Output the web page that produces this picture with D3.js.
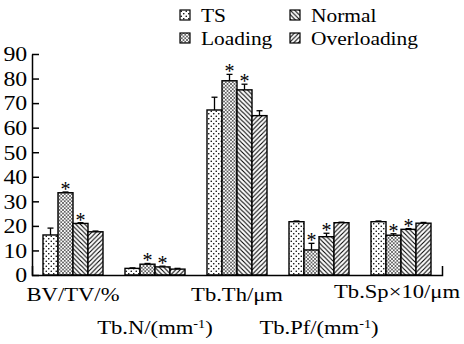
<!DOCTYPE html>
<html>
<head>
<meta charset="utf-8">
<script src="https://cdn.jsdelivr.net/npm/d3@7"></script>
<style>
  body { margin: 0; background: #fff; }
  svg text { font-family: "Liberation Serif", "DejaVu Serif", Tinos, "Times New Roman", serif; fill: #000; }
</style>
</head>
<body>
<div id="chart"></div>
<script>
// chart data
const categories = ["BV/TV/%", "Tb.N/(mm^-1^)", "Tb.Th/μm", "Tb.Pf/(mm^-1^)", "Tb.Sp×10/μm"];
const groups = ["TS", "Loading", "Normal", "Overloading"];
const tsMean = [16.3, 2.7, 67.2, 21.7, 21.7];
const loadingMean = [33.5, 4.4, 79.1, 10.2, 16.2];
const normalMean = [21.0, 3.3, 75.4, 15.6, 18.6];
const overMean = [17.6, 2.4, 64.9, 21.3, 21.1];
const tsErr = [2.8, 0.2, 5.2, 0.3, 0.3];
const loadingErr = [0.3, 0.3, 2.6, 2.7, 0.6];
const normalErr = [0.3, 0.3, 2.3, 1.4, 0.3];
const overErr = [0.3, 0.3, 2.0, 0.2, 0.3];
const significant = [false, true, true, false];
const yTicks = [0, 10, 20, 30, 40, 50, 60, 70, 80, 90];

const means = [tsMean, loadingMean, normalMean, overMean];
const errs = [tsErr, loadingErr, normalErr, overErr];

const width = 464, height = 344;
const margin = { top: 54, left: 32, right: 22, bottom: 69 };
const sx = 1.19; // glyphs in the reference are a bit wider than Times
const serif = '"Liberation Serif", "DejaVu Serif", Tinos, serif';
const labelRows = [301, 334];

const svg = d3.select("#chart").append("svg")
  .attr("width", width)
  .attr("height", height);

// patterns
const defs = svg.append("defs");
function addPattern(id, w, h, draw) {
  const p = defs.append("pattern")
    .attr("id", id)
    .attr("patternUnits", "userSpaceOnUse")
    .attr("width", w).attr("height", h);
  p.append("rect").attr("width", w).attr("height", h).attr("fill", "#fff");
  draw(p);
}
addPattern("pat0", 5, 5, p => {
  p.append("circle").attr("cx", 1.25).attr("cy", 1.25).attr("r", 0.8).attr("fill", "#000");
  p.append("circle").attr("cx", 3.75).attr("cy", 3.75).attr("r", 0.8).attr("fill", "#000");
});
addPattern("pat1", 3.5, 3.5, p => {
  p.append("path").attr("d", "M-1,-1L4.5,4.5M-1,4.5L4.5,-1")
    .attr("stroke", "#000").attr("stroke-width", 0.55);
});
addPattern("pat2", 4.5, 4.5, p => {
  p.append("path").attr("d", "M-1,-1L5.5,5.5M-1,3.5L1,5.5M3.5,-1L5.5,1")
    .attr("stroke", "#000").attr("stroke-width", 1.1);
});
addPattern("pat3", 4.5, 4.5, p => {
  p.append("path").attr("d", "M-1,5.5L5.5,-1M-1,1L1,-1M3.5,5.5L5.5,3.5")
    .attr("stroke", "#000").attr("stroke-width", 1.1);
});

// scales
const x0 = d3.scaleBand()
  .domain(categories)
  .range([margin.left, width - margin.right])
  .paddingInner(22 / 82)
  .paddingOuter(11 / 82);

const x1 = d3.scaleBand()
  .domain(groups)
  .range([0, x0.bandwidth()]);

const y = d3.scaleLinear()
  .domain([0, 90])
  .range([height - margin.bottom, margin.top]);

// bars
const rows = [];
categories.forEach((c, ci) => {
  groups.forEach((g, gi) => {
    rows.push({ cat: c, grp: g, gi: gi, v: means[gi][ci], e: errs[gi][ci], sig: significant[gi] });
  });
});

const barG = svg.append("g");

// error bars first so bar outline sits over the stem
const eb = barG.selectAll("g.err").data(rows).enter().append("g").attr("class", "err");
eb.append("line")
  .attr("x1", d => x0(d.cat) + x1(d.grp) + x1.bandwidth() / 2)
  .attr("x2", d => x0(d.cat) + x1(d.grp) + x1.bandwidth() / 2)
  .attr("y1", d => y(d.v))
  .attr("y2", d => y(d.v + d.e))
  .attr("stroke", "#000").attr("stroke-width", 1.3);
eb.append("line")
  .attr("x1", d => x0(d.cat) + x1(d.grp) + x1.bandwidth() / 2 - 3)
  .attr("x2", d => x0(d.cat) + x1(d.grp) + x1.bandwidth() / 2 + 3)
  .attr("y1", d => y(d.v + d.e))
  .attr("y2", d => y(d.v + d.e))
  .attr("stroke", "#000").attr("stroke-width", 1.3);

barG.selectAll("rect.bar").data(rows).enter().append("rect")
  .attr("class", "bar")
  .attr("x", d => x0(d.cat) + x1(d.grp))
  .attr("y", d => y(d.v))
  .attr("width", x1.bandwidth())
  .attr("height", d => y(0) - y(d.v))
  .attr("fill", d => `url(#pat${d.gi})`)
  .attr("stroke", "#000")
  .attr("stroke-width", 1.4);

// significance stars
barG.selectAll("text.star").data(rows.filter(d => d.sig)).enter().append("text")
  .attr("class", "star")
  .attr("x", d => x0(d.cat) + x1(d.grp) + x1.bandwidth() / 2)
  .attr("y", d => y(d.v + d.e) + 4)
  .attr("text-anchor", "middle")
  .attr("font-family", serif)
  .attr("font-size", 20)
  .text("*");

// y axis
const yAxis = svg.append("g")
  .attr("transform", `translate(${margin.left},0)`)
  .call(d3.axisLeft(y).tickValues(yTicks).tickSizeInner(-7).tickSizeOuter(0).tickPadding(4));
yAxis.attr("font-family", serif);
yAxis.selectAll("text")
  .attr("font-size", 20)
  .attr("font-family", serif)
  .attr("transform", `scale(${sx},1)`)
  .attr("dy", "0.34em");
yAxis.selectAll("path, line").attr("stroke", "#000").attr("stroke-width", 1.5);

// x axis
const xAxis = svg.append("g")
  .attr("transform", `translate(0,${y(0)})`)
  .call(d3.axisBottom(x0).tickValues([]).tickSizeOuter(-9));
xAxis.select("path").attr("stroke", "#000").attr("stroke-width", 1.5);

// category labels, alternating rows
const labels = svg.append("g").selectAll("text").data(categories).enter().append("text")
  .attr("font-family", serif)
  .attr("font-size", 19)
  .attr("text-anchor", "middle")
  .attr("transform", (d, i) => `translate(${x0(d) + x0.bandwidth() / 2},${labelRows[i % 2]}) scale(${sx},1)`);
labels.each(function(d) {
  const t = d3.select(this);
  d.split("^").forEach((part, k) => {
    const ts = t.append("tspan").text(part);
    if (k % 2 === 1) ts.attr("font-size", 12).attr("baseline-shift", "6");
  });
});
// keep the last label inside the frame (it sits slightly higher there)
labels.each(function(d, i) {
  const w = this.getBBox().width * sx;
  const cx = x0(d) + x0.bandwidth() / 2;
  const limit = width - 4;
  if (cx + w / 2 > limit) {
    d3.select(this).attr("transform", `translate(${limit - w / 2},${labelRows[i % 2] - 3}) scale(${sx},1)`);
  }
});

// legend
const legend = svg.append("g");
const leg = legend.selectAll("g").data(groups).enter().append("g")
  .attr("transform", (d, i) => `translate(${180 + Math.floor(i / 2) * 110},${10 + (i % 2) * 23})`);
leg.append("rect")
  .attr("width", 10).attr("height", 10)
  .attr("fill", (d, i) => `url(#pat${i})`)
  .attr("stroke", "#000").attr("stroke-width", 1.2);
leg.append("text")
  .attr("font-family", serif)
  .attr("font-size", 18)
  .attr("transform", `translate(21,11.5) scale(${sx},1)`)
  .text(d => d);
</script>
</body>
</html>
